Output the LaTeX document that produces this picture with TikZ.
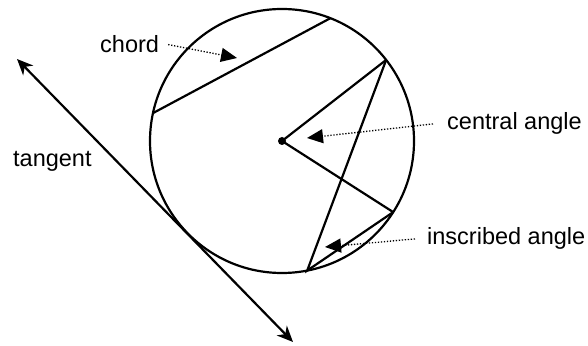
\documentclass[tikz,border=0pt]{standalone}
\usepackage{fontspec}
\setmainfont{Liberation Sans}
\usetikzlibrary{arrows.meta,calc}

\begin{document}
\begin{tikzpicture}[x=1pt,y=1pt,
    geo/.style={line width=2.2pt},
    lbl/.style={font=\fontsize{23.5}{28}\selectfont, inner sep=0pt, anchor=base west},
    ptr/.style={line width=1.3pt, dash pattern=on 1.3pt off 1.7pt, -{Triangle[length=16pt,width=14pt]}},
    tan/.style={geo, {Stealth[length=16pt,width=14pt,inset=5pt]}-{Stealth[length=16pt,width=14pt,inset=5pt]}}
  ]
  \useasboundingbox (0,0) rectangle (588,345);
  \coordinate (c) at (282,204);
  \draw[geo] (c) circle (132);
  \fill (c) circle (4);
  % points on the circle
  \coordinate (ch1) at ($(c)+(167.8:132)$);
  \coordinate (ch2) at ($(c)+(68.5:132)$);
  \coordinate (pa) at ($(c)+(37.9:132)$);
  \coordinate (pb) at ($(c)+(-32.6:132)$);
  \coordinate (pv) at ($(c)+(-79:132)$);
  \draw[geo] (ch1) -- (ch2);
  \draw[geo] (pa) -- (c) -- (pb);
  \draw[geo] (pa) -- (pv) -- (pb);
  % tangent line
  \coordinate (t1) at (17,286);
  \coordinate (t2) at (293,3);
  \draw[tan] (t1) -- (t2);
  % labels
  \node[lbl] (chordl) at (100,292) {chord};
  \node[lbl] (centl) at (447,215) {central angle};
  \node[lbl] (inscl) at (427,100) {inscribed angle};
  \node[lbl] (tanl) at (13,178) {tangent};
  \coordinate (chtip) at (237,287);
  \coordinate (cetip) at (307,207);
  \coordinate (intip) at (325,98);
  \draw[ptr] ([xshift=9pt]chordl.east) -- (chtip);
  \draw[ptr] ([xshift=-14pt]centl.west) -- (cetip);
  \draw[ptr] ([xshift=-12pt]inscl.west) -- (intip);
\end{tikzpicture}
\end{document}
